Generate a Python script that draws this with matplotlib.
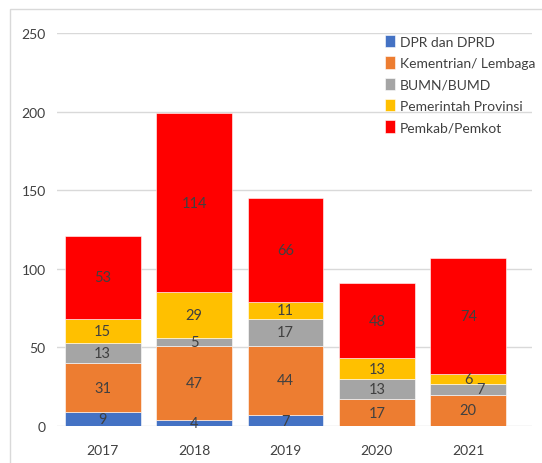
import matplotlib
matplotlib.use("Agg")
import matplotlib.pyplot as plt
from matplotlib.patches import Rectangle
import numpy as np

# data
years = ["2017", "2018", "2019", "2020", "2021"]
series_names = ["DPR dan DPRD", "Kementrian/ Lembaga", "BUMN/BUMD",
                "Pemerintah Provinsi", "Pemkab/Pemkot"]
dpr = [9, 4, 7, 0, 0]
kementrian = [31, 47, 44, 17, 20]
bumn = [13, 5, 17, 13, 7]
pemprov = [15, 29, 11, 13, 6]
pemkab = [53, 114, 66, 48, 74]
colors = ["#4472C4", "#ED7D31", "#A5A5A5", "#FFC000", "#FF0000"]

plt.rcParams["font.family"] = ["Lato", "DejaVu Sans"]
text_color = "#404040"

fig = plt.figure(figsize=(5.42, 4.64), dpi=100)
ax = fig.add_axes([0.105, 0.0797, 0.877, 0.847])

# outer chart frame
fig.patches.append(Rectangle((10 / 542, -0.1), 1.2, 1.1 - 10 / 464,
                             transform=fig.transFigure, fill=False,
                             edgecolor="#d9d9d9", linewidth=1.0))

x = np.arange(len(years))
bottom = np.zeros(len(years))
for si, (name, vals, col) in enumerate(zip(series_names,
                                           [dpr, kementrian, bumn, pemprov, pemkab],
                                           colors)):
    vals = np.array(vals)
    ax.bar(x, vals, 0.83, bottom=bottom, color=col, label=name,
           edgecolor="white", linewidth=0.4, zorder=2)
    for xi, b, v in zip(x, bottom, vals):
        if v > 0:
            dx = 0.13 if (si == 2 and v < 10 and xi == 4) else 0
            ax.text(xi + dx, b + v / 2, str(v), ha="center", va="center",
                    fontsize=10.5, color=text_color, zorder=3)
    bottom += vals

ax.set_xlim(-0.5, 4.7)
ax.set_ylim(0, 250)
ax.set_yticks([0, 50, 100, 150, 200, 250])
ax.set_xticks(x)
ax.set_xticklabels(years)
ax.yaxis.grid(True, color="#d9d9d9", linewidth=1.0, zorder=0)
ax.set_axisbelow(True)
for s in ax.spines.values():
    s.set_visible(False)
ax.tick_params(axis="both", length=0, labelsize=10, labelcolor=text_color)
ax.tick_params(axis="x", pad=13)
ax.tick_params(axis="y", pad=8)

ax.legend(loc="upper left", bbox_to_anchor=(385 / 542, 1 - 36 / 464),
          bbox_transform=fig.transFigure, frameon=False, fontsize=10,
          handlelength=0.75, handleheight=1.0, handletextpad=0.3,
          labelspacing=0.6, borderpad=0, borderaxespad=0,
          labelcolor=text_color)

fig.savefig("out.png", dpi=100)
